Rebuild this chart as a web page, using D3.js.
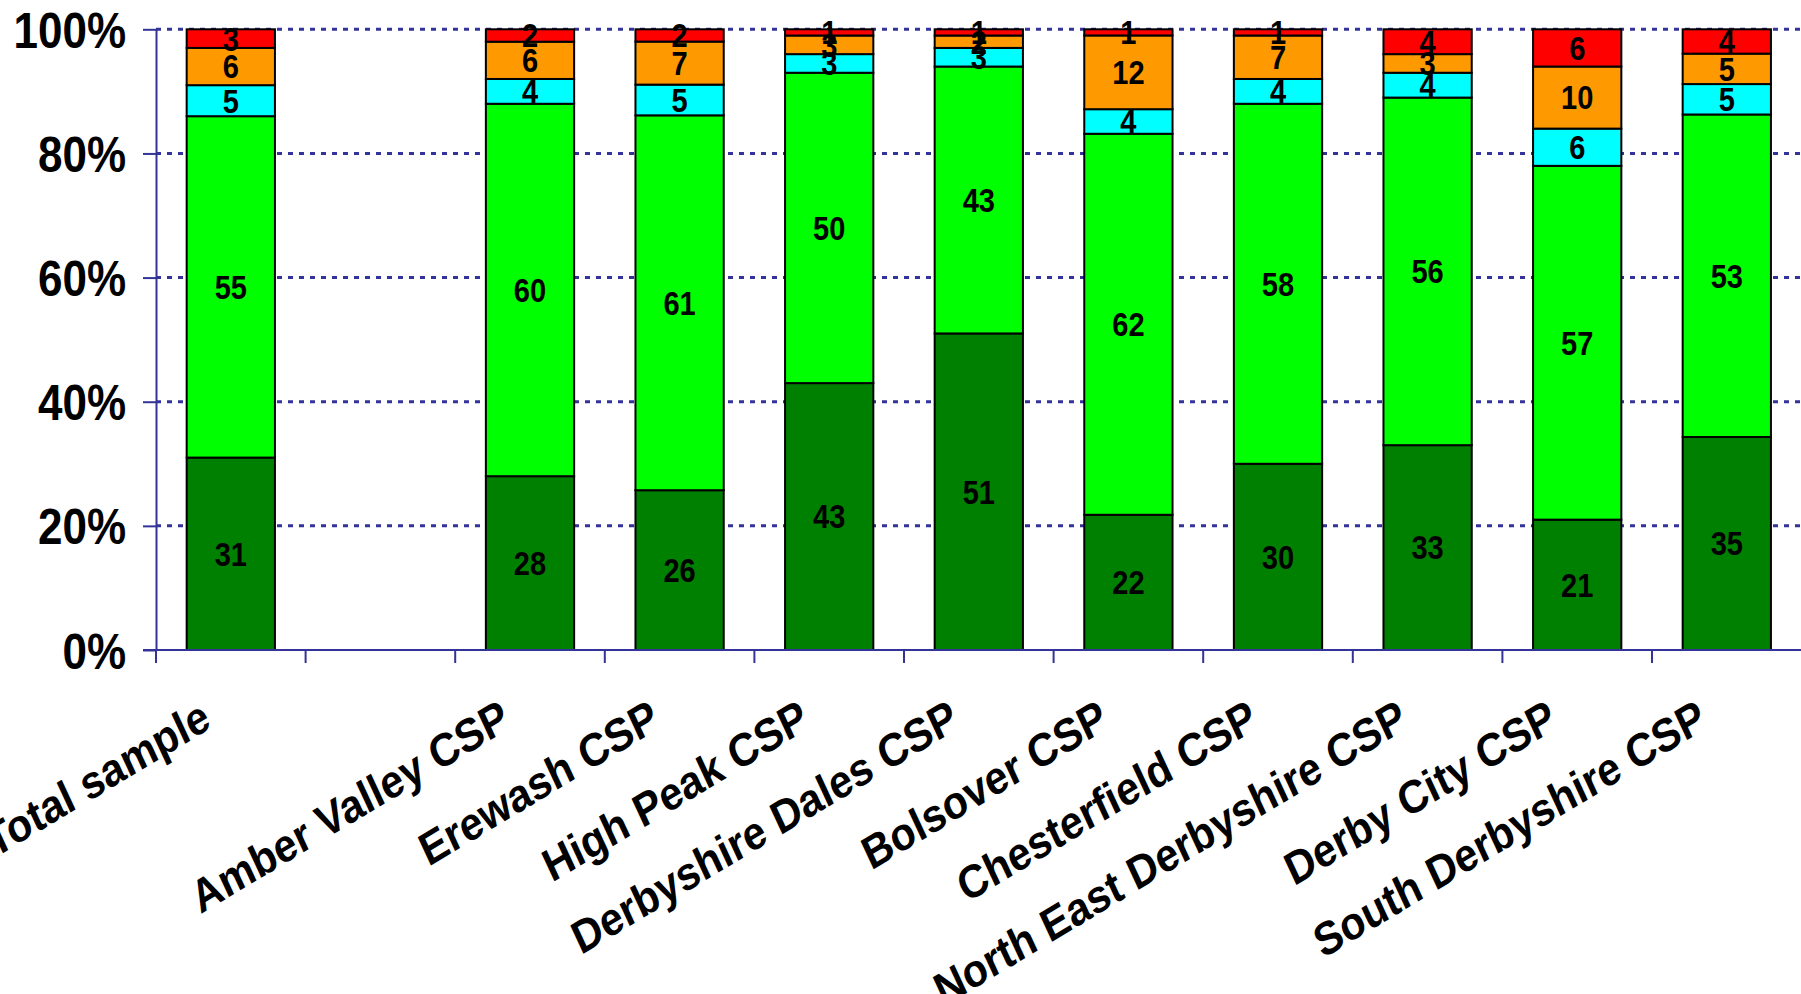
<!DOCTYPE html>
<html>
<head>
<meta charset="utf-8">
<script src="https://cdn.jsdelivr.net/npm/d3@7"></script>
<style>
  html, body { margin: 0; padding: 0; background: #ffffff; overflow: hidden; }
  svg { display: block; }
  text { font-family: "Liberation Sans", Arial, sans-serif; font-weight: bold; fill: #000; }
</style>
</head>
<body>
<script>
// ---- data ----
const categories = ["Total sample", "", "Amber Valley CSP", "Erewash CSP", "High Peak CSP",
  "Derbyshire Dales CSP", "Bolsover CSP", "Chesterfield CSP", "North East Derbyshire CSP",
  "Derby City CSP", "South Derbyshire CSP"];
const seriesNames = ["s1", "s2", "s3", "s4", "s5"];
const darkGreenVals = [31, null, 28, 26, 43, 51, 22, 30, 33, 21, 35];
const greenVals     = [55, null, 60, 61, 50, 43, 62, 58, 56, 57, 53];
const cyanVals      = [5,  null, 4,  5,  3,  3,  4,  4,  4,  6,  5];
const orangeVals    = [6,  null, 6,  7,  3,  2,  12, 7,  3,  10, 5];
const redVals       = [3,  null, 2,  2,  1,  1,  1,  1,  4,  6,  4];
const seriesColors  = ["#008000", "#00FF00", "#00FFFF", "#FF9900", "#FF0000"];
const yTickValues   = [0, 0.2, 0.4, 0.6, 0.8, 1];

// ---- layout ----
const W = 1801, H = 994;
const plotLeft = 156, plotRight = 1801.6, plotTop = 29.3, plotBottom = 650;
const axisColor = "#333399";
const sx = 0.88; // horizontal squeeze of all text

const svg = d3.select("body").append("svg").attr("width", W).attr("height", H);

const valuesBySeries = [darkGreenVals, greenVals, cyanVals, orangeVals, redVals];
const rows = categories.map((c, i) => {
  const r = { cat: c };
  seriesNames.forEach((s, k) => { r[s] = valuesBySeries[k][i] == null ? 0 : valuesBySeries[k][i]; });
  return r;
});
const stacked = d3.stack().keys(seriesNames).offset(d3.stackOffsetExpand)(rows);

const x = d3.scaleBand().domain(categories).range([plotLeft, plotRight])
  .paddingInner(0.41).paddingOuter(0.205);
const y = d3.scaleLinear().domain([0, 1]).range([plotBottom, plotTop]);

// gridlines
svg.append("g").selectAll("line").data(yTickValues.filter(d => d > 0)).join("line")
  .attr("x1", plotLeft).attr("x2", W)
  .attr("y1", d => y(d)).attr("y2", d => y(d))
  .attr("stroke", axisColor).attr("stroke-width", 3).attr("stroke-dasharray", "5,6");

// bars
const layers = svg.append("g").selectAll("g").data(stacked).join("g")
  .attr("fill", (d, i) => seriesColors[i]);
layers.selectAll("rect").data(d => d.filter(p => p.data.cat !== "")).join("rect")
  .attr("x", d => x(d.data.cat))
  .attr("width", x.bandwidth())
  .attr("y", d => y(d[1]))
  .attr("height", d => y(d[0]) - y(d[1]))
  .attr("stroke", "#000").attr("stroke-width", 2);

// data labels
stacked.forEach((layer, k) => {
  svg.append("g").selectAll("text").data(layer.filter(p => p.data.cat !== "")).join("text")
    .attr("transform", d => `translate(${x(d.data.cat) + x.bandwidth() / 2},${(y(d[0]) + y(d[1])) / 2}) scale(${sx},1)`)
    .attr("dy", "0.36em")
    .attr("text-anchor", "middle")
    .attr("font-size", 33)
    .text(d => valuesBySeries[k][categories.indexOf(d.data.cat)]);
});

// y axis
const yAxis = d3.axisLeft(y).tickValues(yTickValues).tickFormat(d3.format(".0%"))
  .tickSize(13).tickSizeOuter(0).tickPadding(17);
const gy = svg.append("g").attr("transform", `translate(${plotLeft},0)`).call(yAxis);
gy.select(".domain").attr("stroke", axisColor).attr("stroke-width", 2);
gy.selectAll(".tick line").attr("stroke", axisColor).attr("stroke-width", 2);
gy.selectAll(".tick text").attr("font-size", 50).attr("font-family", "Liberation Sans, Arial, sans-serif")
  .attr("font-weight", "bold").attr("fill", "#000").attr("dy", "0.36em")
  .attr("x", -30 / sx).attr("transform", `scale(${sx},1)`);

// x axis line and boundary ticks
svg.append("line").attr("x1", plotLeft - 13).attr("x2", W)
  .attr("y1", plotBottom).attr("y2", plotBottom)
  .attr("stroke", axisColor).attr("stroke-width", 2);
const boundaries = d3.range(categories.length).map(i => plotLeft + i * x.step());
svg.append("g").selectAll("line").data(boundaries).join("line")
  .attr("x1", d => d).attr("x2", d => d)
  .attr("y1", plotBottom).attr("y2", plotBottom + 13)
  .attr("stroke", axisColor).attr("stroke-width", 2);

// x labels (rotated, then squeezed horizontally)
const rot = Math.atan(sx * Math.tan(31 * Math.PI / 180)) * 180 / Math.PI;
svg.append("g").selectAll("text").data(categories.filter(c => c !== "")).join("text")
  .attr("transform", d => `translate(${x(d) + x.bandwidth() / 2 - 18},${plotBottom + 77}) scale(${sx},1) rotate(${-rot})`)
  .attr("text-anchor", "end")
  .attr("font-size", 46.5)
  .text(d => d);
</script>
</body>
</html>
